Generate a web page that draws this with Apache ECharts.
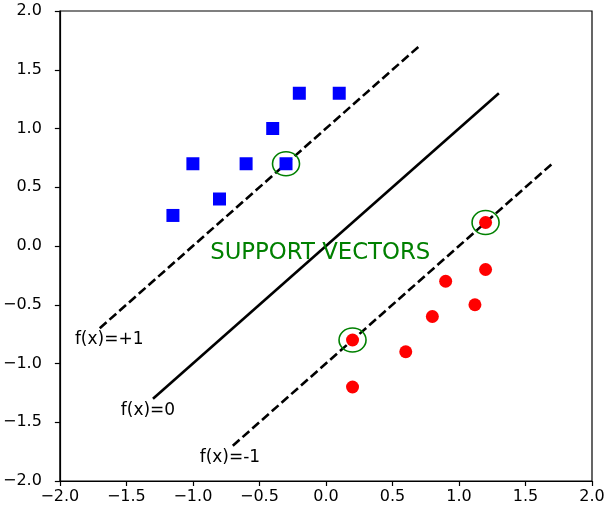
<!DOCTYPE html>
<html>
<head>
<meta charset="utf-8">
<script src="https://cdn.jsdelivr.net/npm/echarts@6/dist/echarts.min.js"></script>
<style>html,body{margin:0;padding:0;background:#fff}#c{width:610px;height:510px}</style>
</head>
<body>
<div id="c"></div>
<script>
// Class +1 (blue squares)
const blueX = [-1.15, -1.0, -0.8, -0.6, -0.4, -0.3, -0.2, 0.1];
const blueY = [0.26, 0.7, 0.4, 0.7, 1.0, 0.7, 1.3, 1.3];
// Class -1 (red circles)
const redX = [1.2, 1.2, 0.9, 1.12, 0.8, 0.6, 0.2, 0.2];
const redY = [0.2, -0.2, -0.3, -0.5, -0.6, -0.9, -0.8, -1.2];
// Support vectors
const svX = [-0.3, 1.2, 0.2];
const svY = [0.7, 0.2, -0.8];
// Lines: f(x)=0, f(x)=+1, f(x)=-1
const line0X = [-1.3, 1.3], line0Y = [-1.3, 1.3];
const linePlusX = [-1.7, 0.7], linePlusY = [-0.7, 1.7];
const lineMinusX = [-0.7, 1.7], lineMinusY = [-1.7, 0.7];
// Annotations
const labelText = ['f(x)=+1', 'f(x)=0', 'f(x)=-1'];
const labelX = [-1.887, -1.542, -0.949];
const labelY = [-0.8, -1.4, -1.8];
const svText = 'SUPPORT VECTORS';
const svTextX = -0.87, svTextY = -0.062;
// Ticks
const axisMin = -2, axisMax = 2, axisStep = 0.5;

const zip = (a, b) => a.map((v, i) => [v, b[i]]);
const fmt = v => (v < 0 ? '\u2212' : '') + Math.abs(v).toFixed(1);
const font = 'DejaVu Sans';

const chart = echarts.init(document.getElementById('c'), null, {renderer: 'canvas'});
const axisCommon = (margin) => ({
  type: 'value', min: axisMin, max: axisMax, interval: axisStep,
  axisLine: {show: true, onZero: false, lineStyle: {color: '#000', width: 1.2}},
  axisTick: {show: true, inside: false, length: 5, lineStyle: {color: '#000', width: 1.2}},
  axisLabel: {color: '#000', fontSize: 16, fontFamily: font, margin: margin, formatter: fmt},
  splitLine: {show: false}
});
const lineSeries = (xs, ys, dashed) => ({
  type: 'line', data: zip(xs, ys), showSymbol: false, symbol: 'none',
  lineStyle: {color: '#000', width: 2.6, opacity: 1, type: dashed ? [9, 4] : 'solid'},
  z: 2, silent: true, animation: false
});
chart.setOption({
  animation: false,
  backgroundColor: '#fff',
  grid: {left: 59, right: 18, top: 11, bottom: 29, show: true, borderColor: '#000', borderWidth: 1.2, backgroundColor: 'transparent'},
  xAxis: axisCommon(8),
  yAxis: axisCommon(18),
  series: [
    lineSeries(line0X, line0Y, false),
    lineSeries(linePlusX, linePlusY, true),
    lineSeries(lineMinusX, lineMinusY, true),
    {type: 'scatter', data: zip(blueX, blueY), symbol: 'rect', symbolSize: 13, itemStyle: {color: '#0000ff', opacity: 1}, z: 3},
    {type: 'scatter', data: zip(redX, redY), symbol: 'circle', symbolSize: 13, itemStyle: {color: '#ff0000', opacity: 1}, z: 3},
    {type: 'scatter', data: zip(svX, svY), symbol: 'circle', symbolSize: [27, 24],
     itemStyle: {color: 'transparent', borderColor: '#008000', borderWidth: 1.5, opacity: 1}, z: 4},
    {type: 'scatter', symbolSize: 0, z: 5, itemStyle: {opacity: 1},
     data: labelText.map((t, i) => ({value: [labelX[i], labelY[i]], name: t})),
     label: {show: true, position: 'inside', align: 'left', verticalAlign: 'middle', formatter: p => p.name,
             color: '#000', opacity: 1, fontSize: 17, fontFamily: font}},
    {type: 'scatter', symbolSize: 0, z: 5, itemStyle: {opacity: 1},
     data: [{value: [svTextX, svTextY], name: svText}],
     label: {show: true, position: 'inside', align: 'left', verticalAlign: 'middle', formatter: p => p.name,
             color: '#008000', opacity: 1, fontSize: 22.8, fontFamily: font}}
  ]
});
</script>
</body>
</html>
